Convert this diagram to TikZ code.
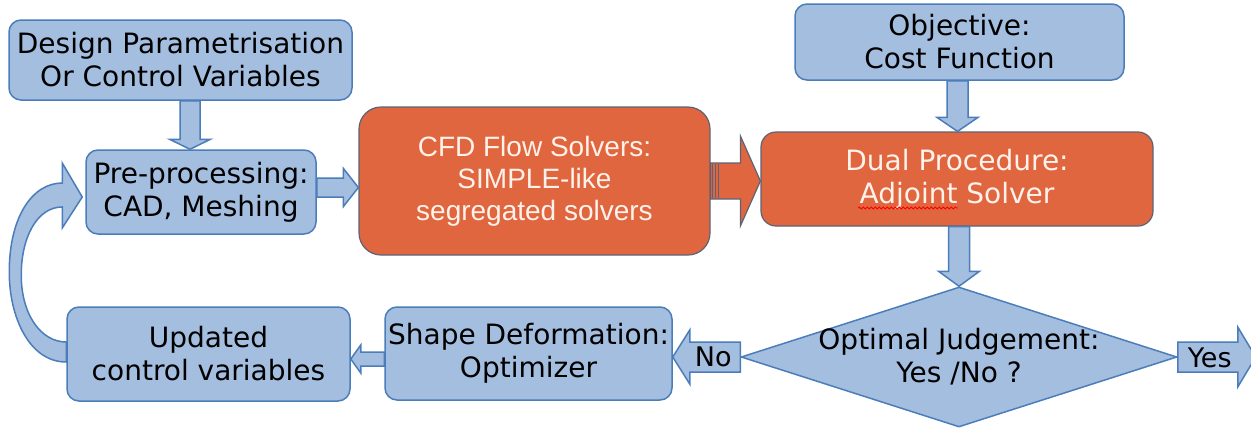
\documentclass[tikz,border=0pt]{standalone}
\usepackage{fontspec}
\setmainfont{DejaVu Sans}
\newfontfamily\solverfont{Liberation Sans}
\usetikzlibrary{calc,shapes.geometric,decorations.pathmorphing}

\definecolor{boxblue}{HTML}{A4BEE0}
\definecolor{lineblue}{HTML}{4A7DBA}
\definecolor{solverred}{HTML}{E0663F}
\definecolor{solverline}{HTML}{5D6275}
\definecolor{solvertext}{HTML}{FFF2EA}

% block arrow: [style]{start}{tip}{half shaft}{half head}{head length}
\newcommand{\blockarrow}[6][]{%
  \path (#2) coordinate (ba-s) (#3) coordinate (ba-e);
  \coordinate (ba-h) at ($(ba-e)!#6!(ba-s)$);
  \draw[#1] ($(ba-s)!#4!90:(ba-e)$) -- ($(ba-h)!#4!-90:(ba-s)$)
    -- ($(ba-h)!#5!-90:(ba-s)$) -- (ba-e) -- ($(ba-h)!#5!90:(ba-s)$)
    -- ($(ba-h)!#4!90:(ba-s)$) -- ($(ba-s)!#4!-90:(ba-e)$) -- cycle;
}

\tikzset{
  blockbox/.style={draw=lineblue, fill=boxblue, line width=1.5pt, rounded corners=12pt,
    align=center, inner sep=0pt, font=\fontsize{28}{33}\selectfont},
  solverbox/.style={draw=solverline, fill=solverred, line width=1.2pt,
    align=center, inner sep=0pt, text=solvertext},
  judgebox/.style={diamond, draw=lineblue, fill=boxblue, line width=1.5pt, inner sep=0pt},
  bluearrow/.style={draw=lineblue, fill=boxblue, line width=1.5pt, line join=miter},
  redarrow/.style={draw=solverline, fill=solverred, line width=1.2pt},
  stripe/.style={draw=solverline, line width=1.2pt},
  arrowlabel/.style={inner sep=0pt, font=\fontsize{27}{32}\selectfont},
  spellmark/.style={red, line width=0.8pt, decorate,
    decoration={snake, amplitude=1pt, segment length=4pt}},
}

\begin{document}
\begin{tikzpicture}[x=1pt, y=-1pt]
  \useasboundingbox (0,0) rectangle (1251,429);

  % boxes
  \node[blockbox, minimum width=343pt, minimum height=80pt] (design) at (180.5,60)
    {Design Parametrisation\\Or Control Variables};
  \node[blockbox, minimum width=230pt, minimum height=84pt] (pre) at (201,192)
    {Pre-processing:\\CAD, Meshing};
  \node[solverbox, rounded corners=22pt, minimum width=351pt, minimum height=148pt,
    font=\solverfont\fontsize{28}{32}\selectfont] (cfd) at (534.5,181)
    {CFD Flow Solvers:\\SIMPLE-like\\segregated solvers};
  \node[blockbox, minimum width=329pt, minimum height=76pt] (obj) at (959.5,42)
    {Objective:\\Cost Function};
  \node[solverbox, rounded corners=15pt, minimum width=392pt, minimum height=94pt,
    font=\fontsize{28}{33}\selectfont] (dual) at (957,179)
    {Dual Procedure:\\Adjoint Solver};
  \node[judgebox, minimum width=436pt, minimum height=140pt] (judge) at (959,357) {};
  \node[align=center, inner sep=0pt, font=\fontsize{28}{33}\selectfont] (judgetext)
    at (judge.center) {Optimal Judgement:\\Yes /No ?};
  \node[blockbox, minimum width=287pt, minimum height=93pt] (shape) at (528.5,353.5)
    {Shape Deformation:\\Optimizer};
  \node[blockbox, minimum width=283pt, minimum height=94pt] (upd) at (208.5,354)
    {Updated\\control variables};

  \draw[spellmark] ($(dual.center)+(-99,29)$) -- ++(100,0);

  % arrows
  \coordinate (d-out) at ($(design.south)+(9.5,0)$);
  \blockarrow[bluearrow]{d-out}{d-out |- pre.north}{10pt}{20.5pt}{10pt}
  \coordinate (p-out) at ($(pre.east)+(0,-4.5)$);
  \blockarrow[bluearrow]{p-out}{p-out -| cfd.west}{9.5pt}{19pt}{15pt}
  \blockarrow[redarrow]{cfd.east}{cfd.east -| dual.west}{18pt}{45pt}{20pt}
  \foreach \dx in {1.5,4.5,7.5}
    \draw[stripe] ($(cfd.east)+(\dx,-17)$) -- ++(0,34);
  \coordinate (o-out) at ($(obj.south)+(-2,0)$);
  \blockarrow[bluearrow]{o-out}{o-out |- dual.north}{10.5pt}{20.5pt}{14pt}
  \blockarrow[bluearrow]{judge.north |- dual.south}{judge.north}{10.5pt}{20.5pt}{15pt}
  \blockarrow[bluearrow]{judge.west}{judge.west -| shape.east}{15pt}{27pt}{17pt}
  \node[arrowlabel] (nolabel) at ($(judge.west)+(-27,0)$) {No};
  \coordinate (yes-end) at ($(judge.east)+(78,0)$);
  \blockarrow[bluearrow]{judge.east}{yes-end}{15pt}{30pt}{18pt}
  \node[arrowlabel] (yeslabel) at ($(judge.east)+(32,1)$) {Yes};
  \coordinate (s-out) at ($(shape.west)+(0,5.5)$);
  \blockarrow[bluearrow]{s-out}{s-out -| upd.east}{7pt}{14pt}{10pt}

  % loop back to pre-processing
  \coordinate (loop-s) at ($(upd.west)+(0,8)$);
  \coordinate (loop-e) at ($(pre.west)+(-3,5)$);
  \draw[bluearrow] (loop-s) .. controls +(-37,0) and +(0,45) .. ($(loop-s)+(-57,-90)$)
    .. controls +(0,-55) and +(-30,0) .. ($(loop-e)+(-20,-14)$) -- ++(0,-20)
    -- (loop-e) -- ++(-20,31) -- ++(0,-21)
    .. controls +(-25,0) and +(0,-38) .. ($(loop-s)+(-45,-87)$)
    .. controls +(0,40) and +(-25,0) .. ($(loop-s)+(0,-20)$) -- cycle;
\end{tikzpicture}
\end{document}
